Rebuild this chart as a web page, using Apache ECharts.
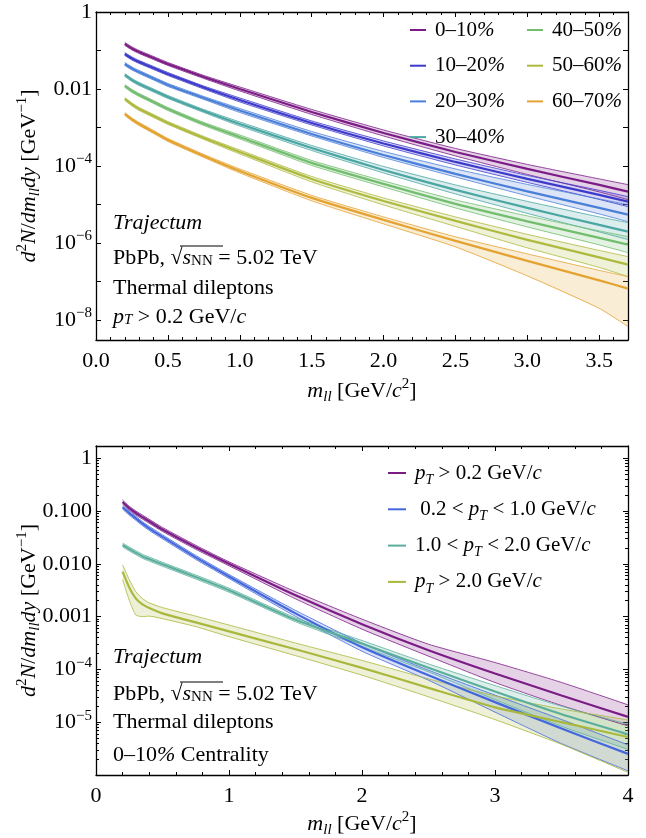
<!DOCTYPE html>
<html>
<head>
<meta charset="utf-8">
<script src="https://cdn.jsdelivr.net/npm/echarts@6/dist/echarts.min.js"></script>
<style>
  html, body { margin: 0; padding: 0; background: #fff; }
  #chart { width: 646px; height: 838px; }
</style>
</head>
<body>
<div id="chart"></div>
<script>
const FONT = 'Liberation Serif';

// ---- top panel: centrality classes, pT > 0.2 GeV ----
const xTop = [0.2, 0.25, 0.3, 0.4, 0.5, 0.75, 1.0, 1.5, 2.0, 2.5, 3.0, 3.5, 3.7];
const centralities = ['0–10%', '10–20%', '20–30%', '30–40%', '40–50%', '50–60%', '60–70%'];
const topColors = ['#7b1c86', '#3d3acb', '#4a7fd9', '#4aa6a3', '#72bd6e', '#aeba3e', '#e4a331'];

const mid0 = [0.148, 0.113, 0.0914, 0.0638, 0.0446, 0.0205, 0.0100, 0.00253, 7.19e-4, 2.31e-4, 8.36e-5, 3.21e-5, 2.15e-5];
const up0  = [0.162, 0.124, 0.100, 0.0698, 0.0488, 0.0224, 0.01127, 0.00294, 8.60e-4, 2.85e-4, 1.094e-4, 4.60e-5, 3.27e-5];
const lo0  = [0.1353, 0.1033, 0.0835, 0.0583, 0.0408, 0.01874, 0.00887, 0.00218, 6.01e-4, 1.82e-4, 6.01e-5, 2.11e-5, 1.33e-5];

const mid1 = [0.0811, 0.0620, 0.0503, 0.0351, 0.0245, 0.0109, 0.00518, 0.00131, 3.84e-4, 1.27e-4, 4.60e-5, 1.77e-5, 1.18e-5];
const up1  = [0.0887, 0.0678, 0.0550, 0.0384, 0.0268, 0.01192, 0.00584, 0.00148, 4.46e-4, 1.52e-4, 5.67e-5, 2.32e-5, 1.59e-5];
const lo1  = [0.0741, 0.0567, 0.0460, 0.0321, 0.0224, 0.00996, 0.00460, 0.00116, 3.31e-4, 1.06e-4, 3.73e-5, 1.35e-5, 8.75e-6];

const mid2 = [0.0446, 0.0341, 0.0276, 0.0187, 0.0127, 0.00584, 0.00276, 6.78e-4, 1.93e-4, 6.20e-5, 2.18e-5, 8.11e-6, 5.43e-6];
const up2  = [0.0488, 0.0373, 0.0302, 0.0205, 0.0139, 0.00639, 0.00311, 7.87e-4, 2.38e-4, 8.36e-5, 3.31e-5, 1.39e-5, 9.87e-6];
const lo2  = [0.0408, 0.0312, 0.0252, 0.0171, 0.0116, 0.00534, 0.00245, 6.02e-4, 1.66e-4, 5.18e-5, 1.67e-5, 5.66e-6, 3.57e-6];

const mid3 = [0.0231, 0.0171, 0.0135, 0.00914, 0.00620, 0.00268, 0.00123, 2.93e-4, 7.87e-5, 2.38e-5, 8.11e-6, 2.93e-6, 1.97e-6];
const up3  = [0.0253, 0.0187, 0.0148, 0.0100, 0.00678, 0.00293, 0.00139, 3.40e-4, 9.70e-5, 3.21e-5, 1.20e-5, 4.73e-6, 3.37e-6];
const lo3  = [0.0211, 0.0156, 0.0123, 0.00835, 0.00567, 0.00245, 0.00109, 2.52e-4, 6.58e-5, 1.87e-5, 5.83e-6, 1.93e-6, 1.22e-6];

const mid4 = [0.0120, 0.00887, 0.00699, 0.00460, 0.00302, 0.00123, 5.66e-4, 1.20e-4, 3.41e-5, 1.03e-5, 3.62e-6, 1.35e-6, 9.03e-7];
const up4  = [0.0131, 0.00970, 0.00765, 0.00503, 0.00330, 0.00135, 6.38e-4, 1.39e-4, 4.08e-5, 1.31e-5, 5.03e-6, 2.05e-6, 1.46e-6];
const lo4  = [0.0110, 0.00811, 0.00639, 0.00420, 0.00276, 0.00112, 5.02e-4, 1.03e-4, 2.85e-5, 8.11e-6, 2.60e-6, 8.88e-7, 5.59e-7];

const mid5 = [0.00550, 0.00396, 0.00302, 0.00199, 0.00131, 5.34e-4, 2.31e-4, 4.60e-5, 1.23e-5, 3.73e-6, 1.20e-6, 4.20e-7, 2.73e-7];
const up5  = [0.00602, 0.00433, 0.00330, 0.00218, 0.00143, 5.84e-4, 2.60e-4, 5.34e-5, 1.47e-5, 4.74e-6, 1.67e-6, 6.38e-7, 4.41e-7];
const lo5  = [0.00503, 0.00362, 0.00276, 0.00182, 0.00120, 4.88e-4, 2.05e-4, 3.85e-5, 9.69e-6, 2.68e-6, 7.43e-7, 2.31e-7, 1.33e-7];

const mid6 = [0.00224, 0.00161, 0.00123, 7.64e-4, 4.73e-4, 1.82e-4, 7.42e-5, 1.48e-5, 3.96e-6, 1.13e-6, 3.41e-7, 1.06e-7, 6.50e-8];
const up6  = [0.00245, 0.00176, 0.00135, 8.36e-4, 5.17e-4, 1.99e-4, 8.36e-5, 1.72e-5, 4.74e-6, 1.44e-6, 5.18e-7, 1.93e-7, 1.33e-7];
const lo6  = [0.00205, 0.00147, 0.00112, 6.98e-4, 4.32e-4, 1.66e-4, 6.58e-5, 1.24e-5, 3.12e-6, 7.89e-7, 1.39e-7, 1.99e-8, 6.69e-9];

// ---- bottom panel: pT classes, 0-10% ----
const xBot = [0.2, 0.25, 0.3, 0.35, 0.4, 0.5, 0.75, 1.0, 1.5, 2.0, 2.5, 3.0, 3.5, 4.0];
const ptNames = ['pT > 0.2 GeV/c', '0.2 < pT < 1.0 GeV/c', '1.0 < pT < 2.0 GeV/c', 'pT > 2.0 GeV/c'];
const ptLabels = [
  '{i|p}{sub|T} > 0.2 GeV/{i|c}',
  ' 0.2 < {i|p}{sub|T} < 1.0 GeV/{i|c}',
  '1.0 < {i|p}{sub|T} < 2.0 GeV/{i|c}',
  '{i|p}{sub|T} > 2.0 GeV/{i|c}'
];
const botColors = ['#7b1c86', '#4468dc', '#5aae9c', '#a9b83c'];

const bMid0 = [0.148, 0.113, 0.0914, 0.0764, 0.0638, 0.0446, 0.0205, 0.0100, 0.00253, 7.19e-4, 2.31e-4, 8.36e-5, 3.21e-5, 1.26e-5];
const bUp0  = [0.161, 0.123, 0.0997, 0.0834, 0.0696, 0.0487, 0.0224, 0.0109, 0.00295, 8.94e-4, 3.00e-4, 1.35e-4, 5.66e-5, 2.13e-5];
const bLo0  = [0.1357, 0.1036, 0.0838, 0.0700, 0.0585, 0.0409, 0.0188, 0.00917, 0.00217, 5.78e-4, 1.78e-4, 5.64e-5, 2.07e-5, 8.50e-6];

const bMid1 = [0.1175, 0.0912, 0.0724, 0.0575, 0.0468, 0.0324, 0.0132, 0.00575, 0.00115, 2.63e-4, 7.76e-5, 2.40e-5, 7.59e-6, 2.51e-6];
const bUp1  = [0.128, 0.0995, 0.0790, 0.0627, 0.0511, 0.0353, 0.0144, 0.00627, 0.00131, 3.13e-4, 9.65e-5, 3.26e-5, 1.125e-5, 3.72e-6];
const bLo1  = [0.1077, 0.0836, 0.0664, 0.0527, 0.0429, 0.0297, 0.0121, 0.00527, 0.00101, 2.21e-4, 6.24e-5, 1.55e-5, 3.94e-6, 1.20e-6];

const bMid2 = [0.02265, 0.01905, 0.01622, 0.0138, 0.0123, 0.00977, 0.00562, 0.00316, 8.71e-4, 3.09e-4, 1.07e-4, 3.80e-5, 1.41e-5, 5.89e-6];
const bUp2  = [0.0247, 0.0208, 0.0177, 0.01506, 0.01342, 0.01066, 0.00613, 0.00345, 9.50e-4, 3.52e-4, 1.27e-4, 4.94e-5, 2.00e-5, 9.12e-6];
const bLo2  = [0.02076, 0.01746, 0.01487, 0.01265, 0.01127, 0.00896, 0.00515, 0.00290, 7.98e-4, 2.71e-4, 8.98e-5, 2.68e-5, 8.35e-6, 3.06e-6];

const bMid3 = [0.00708, 0.00355, 0.00219, 0.00170, 0.00145, 0.00115, 7.76e-4, 5.25e-4, 2.40e-4, 1.07e-4, 4.47e-5, 1.91e-5, 1.0e-5, 5.25e-6];
const bUp3  = [0.00955, 0.00501, 0.00295, 0.00219, 0.00182, 0.00148, 0.00102, 6.92e-4, 3.16e-4, 1.48e-4, 6.61e-5, 3.16e-5, 1.78e-5, 1.10e-5];
const bLo3  = [0.00501, 0.00204, 0.00107, 0.00100, 0.00102, 9.12e-4, 6.46e-4, 4.17e-4, 1.82e-4, 7.76e-5, 3.02e-5, 1.12e-5, 3.80e-6, 1.12e-6];

// tick labels (by decade exponent)
const topYTicks = { 0: '1', '-2': '0.01', '-4': '10{sup|−4}', '-6': '10{sup|−6}', '-8': '10{sup|−8}' };
const botYTicks = { 0: '1', '-1': '0.100', '-2': '0.010', '-3': '0.001', '-4': '10{sup|−4}', '-5': '10{sup|−5}' };

const rich = {
  i: { fontFamily: FONT, fontStyle: 'italic', fontSize: 22, color: '#000' },
  sub: { fontFamily: FONT, fontStyle: 'italic', fontSize: 15, lineHeight: 15, verticalAlign: 'bottom', color: '#000' },
  subr: { fontFamily: FONT, fontSize: 15, lineHeight: 15, verticalAlign: 'bottom', color: '#000' },
  sup: { fontFamily: FONT, fontSize: 15, lineHeight: 15, verticalAlign: 'top', color: '#000' }
};
const legRich = {
  i: { fontFamily: FONT, fontStyle: 'italic', fontSize: 21, color: '#000' },
  sub: { fontFamily: FONT, fontStyle: 'italic', fontSize: 14, lineHeight: 14, verticalAlign: 'bottom', color: '#000' }
};
const baseText = { fontFamily: FONT, fontSize: 22, lineHeight: 28, color: '#000', rich: rich };

function pairs(xs, ys) { return xs.map((x, i) => [x, ys[i]]); }

// filled band (custom polygon through the axes) + both edges + central line
function trio(name, xs, lo, up, mid, color, gi) {
  const ax = { xAxisIndex: gi * 2, yAxisIndex: gi * 2 };
  const line = (nm, ys, w, z) => Object.assign({
    type: 'line', name: nm, symbol: 'none', smooth: 0.2, silent: true, z: z,
    itemStyle: { color: color }, lineStyle: { color: color, width: w }, data: pairs(xs, ys)
  }, ax);
  const fill = Object.assign({
    type: 'custom', name: name + ' band', silent: true, z: 1, clip: true,
    data: xs.map((x, i) => [x, lo[i], up[i]]),
    encode: { x: 0, y: [1, 2] },
    renderItem: function (params, api) {
      if (params.dataIndex !== 0) return null;
      const pts = [];
      xs.forEach((x, i) => pts.push(api.coord([x, up[i]])));
      for (let i = xs.length - 1; i >= 0; i--) pts.push(api.coord([xs[i], lo[i]]));
      return { type: 'polygon', shape: { points: pts }, style: { fill: color, opacity: 0.2 } };
    }
  }, ax);
  return [fill, line(name + ' lower', lo, 0.8, 2), line(name + ' upper', up, 0.8, 2), line(name, mid, 2.2, 3)];
}

function logLabel(map) {
  return function (v) {
    const e = Math.log10(v), r = Math.round(e);
    if (Math.abs(e - r) > 1e-3) return '';
    return map[r] || '';
  };
}

const axLine = { onZero: false, lineStyle: { color: '#000', width: 1.3 } };
const axTick = { inside: true, length: 5, lineStyle: { color: '#000', width: 1 } };
const minTick = (n) => ({ show: true, splitNumber: n, length: 3, lineStyle: { color: '#000', width: 1 } });

function xAx(gi, pos, max, interval, fmt, name, gap) {
  return {
    gridIndex: gi, type: 'value', position: pos, min: 0, max: max, interval: interval,
    axisLine: axLine, axisTick: axTick, minorTick: minTick(5), splitLine: { show: false },
    axisLabel: fmt ? Object.assign({ margin: 7, formatter: fmt, showMaxLabel: max === 4 }, baseText)
                   : { show: false },
    name: name || '', nameLocation: 'middle', nameGap: gap || 0, nameMoveOverlap: false,
    nameTextStyle: baseText
  };
}
function yAx(gi, pos, min, max, fmt, minor, name) {
  return {
    gridIndex: gi, type: 'log', logBase: 10, position: pos, min: min, max: max,
    axisLine: axLine, axisTick: axTick, minorTick: minor ? minTick(9) : { show: false },
    splitLine: { show: false },
    axisLabel: fmt ? Object.assign({ margin: 4, formatter: fmt }, baseText) : { show: false },
    name: name || '', nameLocation: 'middle', nameRotate: 90, nameGap: 53, nameMoveOverlap: false,
    nameTextStyle: baseText
  };
}

const xName = '{i|m}{sub|ll} [GeV/{i|c}{sup|2}]';
const yName = '{i|d}{sup|2}{i|N}/{i|dm}{sub|ll}{i|dy} [GeV{sup|−1}]';

const series = [];
const topSets = [[lo0, up0, mid0], [lo1, up1, mid1], [lo2, up2, mid2], [lo3, up3, mid3],
                 [lo4, up4, mid4], [lo5, up5, mid5], [lo6, up6, mid6]];
topSets.forEach((s, k) => series.push(...trio(centralities[k], xTop, s[0], s[1], s[2], topColors[k], 0)));
const botSets = [[bLo0, bUp0, bMid0], [bLo1, bUp1, bMid1], [bLo2, bUp2, bMid2], [bLo3, bUp3, bMid3]];
botSets.forEach((s, k) => series.push(...trio(ptNames[k], xBot, s[0], s[1], s[2], botColors[k], 1)));

const legBase = {
  orient: 'vertical', icon: 'rect', itemWidth: 16, itemHeight: 2, itemGap: 7.7, padding: 0,
  selectedMode: false,
  textStyle: { fontFamily: FONT, fontSize: 21, lineHeight: 28, color: '#000', padding: [0, 0, 0, 4], rich: legRich }
};
const pctFmt = (n) => n.slice(0, -1) + '{i|%}';

function txt(x, y, s) {
  return { type: 'text', style: { x: x, y: y, text: s, verticalAlign: 'middle', fill: '#000',
    fontFamily: FONT, fontSize: 22, rich: rich } };
}
function bar(x1, x2, y) {
  return { type: 'line', shape: { x1: x1, y1: y, x2: x2, y2: y }, style: { stroke: '#000', lineWidth: 1 } };
}

const chart = echarts.init(document.getElementById('chart'));
chart.setOption({
  animation: false,
  backgroundColor: '#fff',
  grid: [
    { left: 96, top: 12, width: 532, height: 328, outerBoundsMode: 'none' },
    { left: 96, top: 446, width: 532, height: 329, outerBoundsMode: 'none' }
  ],
  xAxis: [
    xAx(0, 'bottom', 3.7, 0.5, (v) => v.toFixed(1), xName, 37),
    xAx(0, 'top', 3.7, 0.5),
    xAx(1, 'bottom', 4, 1, (v) => String(v), xName, 35),
    xAx(1, 'top', 4, 1)
  ],
  yAxis: [
    yAx(0, 'left', 3e-9, 1, logLabel(topYTicks), false, yName),
    yAx(0, 'right', 3e-9, 1, null, false),
    yAx(1, 'left', 1e-6, 1.7, logLabel(botYTicks), true, yName),
    yAx(1, 'right', 1e-6, 1.7, null, true)
  ],
  legend: [
    Object.assign({}, legBase, { data: centralities.slice(0, 4), left: 410, top: 16, formatter: pctFmt }),
    Object.assign({}, legBase, { data: centralities.slice(4), left: 527, top: 16, formatter: pctFmt }),
    Object.assign({}, legBase, { data: ptNames, left: 388, top: 459, itemWidth: 18, itemGap: 8.3,
      formatter: (n) => ptLabels[ptNames.indexOf(n)] })
  ],
  graphic: [
    txt(113, 223, '{i|Trajectum}'),
    txt(113, 258, 'PbPb, √{i|s}{subr|NN} = 5.02 TeV'),
    bar(180, 223, 246),
    txt(113, 288, 'Thermal dileptons'),
    txt(113, 317, '{i|p}{sub|T} > 0.2 GeV/{i|c}'),
    txt(113, 657, '{i|Trajectum}'),
    txt(113, 694, 'PbPb, √{i|s}{subr|NN} = 5.02 TeV'),
    bar(180, 223, 682),
    txt(113, 722, 'Thermal dileptons'),
    txt(113, 755, '0–10{i|%} Centrality')
  ],
  series: series
});
</script>
</body>
</html>
